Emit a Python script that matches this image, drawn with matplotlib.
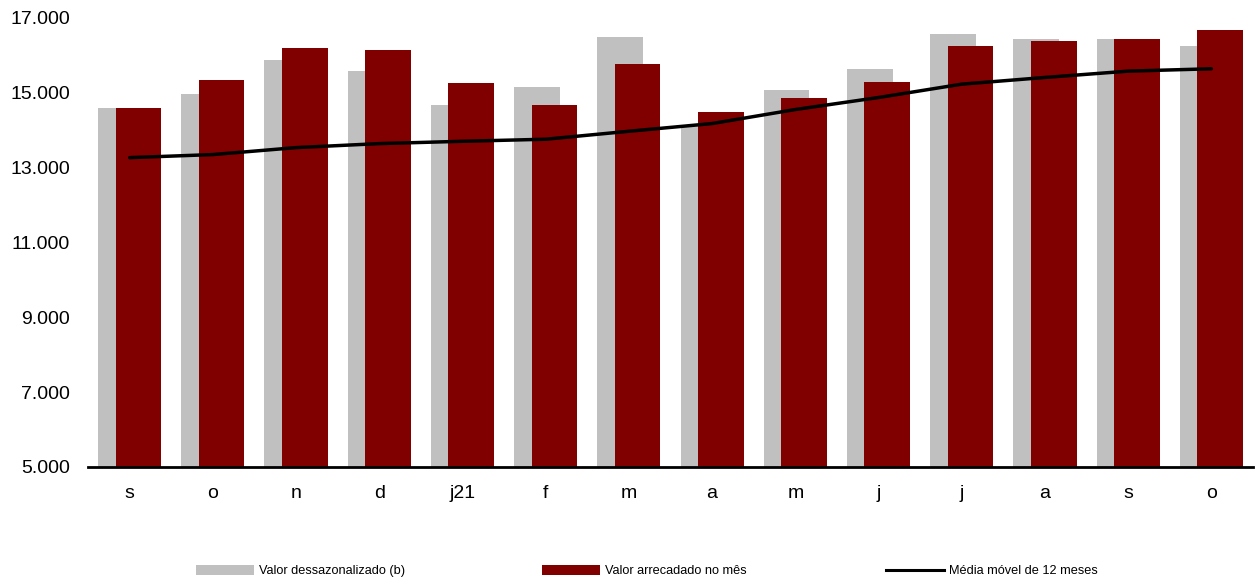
import matplotlib
matplotlib.use("Agg")
import matplotlib.pyplot as plt
from matplotlib.patches import Patch
from matplotlib.lines import Line2D
import numpy as np

plt.rcParams['font.family'] = ['Liberation Sans', 'DejaVu Sans']

categories = ['s', 'o', 'n', 'd', 'j21', 'f', 'm', 'a', 'm', 'j', 'j', 'a', 's', 'o']
dessazonalizado = [14607, 14973, 15884, 15580, 14670, 15150, 16499, 14130, 15089, 15643, 16562, 16437, 16437, 16250]
arrecadado = [14607, 15339, 16187, 16134, 15259, 14670, 15768, 14490, 14857, 15277, 16259, 16375, 16428, 16679]
media_movel = [13268, 13350, 13536, 13643, 13705, 13760, 13973, 14179, 14554, 14875, 15232, 15411, 15580, 15643]

gray = '#C0C0C0'
red = '#800000'

fig = plt.figure(figsize=(12.58, 5.81), dpi=100)
ax = fig.add_axes([88/1258, 1-467/581, (1253-88)/1258, (467-18)/581])

x = np.arange(len(categories))
w = 0.548
off = 0.105
base = 5000
ax.bar(x - off, np.array(dessazonalizado) - base, width=w, bottom=base, color=gray, zorder=1)
ax.bar(x + off, np.array(arrecadado) - base, width=w, bottom=base, color=red, zorder=2)
ax.plot(x, media_movel, color='black', lw=2.5, solid_capstyle='round', solid_joinstyle='round', zorder=3)

ax.set_xlim(-0.5, len(categories) - 0.5)
ax.set_ylim(5000, 17000)
ax.set_yticks(np.arange(5000, 17001, 2000))
ax.set_yticklabels([f'{v:,}'.replace(',', '.') for v in range(5000, 17001, 2000)])
ax.set_xticks(x)
ax.set_xticklabels(categories)
ax.tick_params(axis='both', length=0, labelsize=14)
ax.tick_params(axis='y', pad=13)
ax.tick_params(axis='x', pad=13)
for s in ['left', 'right', 'top']:
    ax.spines[s].set_visible(False)
ax.spines['bottom'].set_linewidth(2)
ax.spines['bottom'].set_color('black')
ax.spines['bottom'].set_zorder(4)

yleg = 1 - 571/581
entries = [
    (196, Patch(facecolor=gray, edgecolor='none'), 'Valor dessazonalizado (b)'),
    (542, Patch(facecolor=red, edgecolor='none'), 'Valor arrecadado no mês'),
    (886, Line2D([0], [0], color='black', lw=2.2), 'Média móvel de 12 meses'),
]
for xp, h, lab in entries:
    fig.legend(handles=[h], labels=[lab], loc='center left',
               bbox_to_anchor=(xp/1258, yleg), frameon=False,
               fontsize=9.2, handlelength=4.5, handleheight=0.8,
               handletextpad=0.45, borderpad=0, borderaxespad=0)

fig.savefig('out.png', dpi=100)
